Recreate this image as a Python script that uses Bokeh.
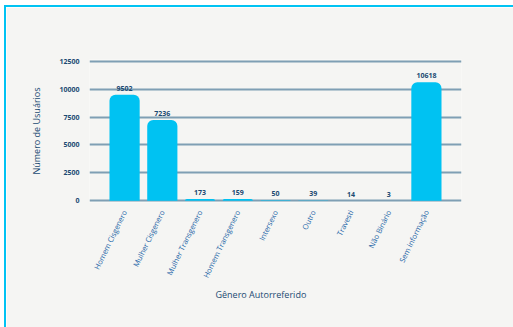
import math
from bokeh.plotting import figure
from bokeh.models import ColumnDataSource, FactorRange, Range1d, FixedTicker, Title
from bokeh.core.properties import value
from bokeh.embed import file_html
from bokeh.resources import INLINE

categories = ["Homem Cisgenero", "Mulher Cisgenero", "Mulher Transgenero",
              "Homem Transgenero", "Intersexo", "Outro", "Travesti",
              "Não Binário", "Sem informação"]
counts = [9502, 7236, 173, 159, 50, 39, 14, 3, 10618]
y_ticks = [0, 2500, 5000, 7500, 10000, 12500]

FONT = "Open Sans"
NAVY = "#1b4a72"
BLUE = "#2567a8"
GRID = "#7f9fb4"
BAR = "#00c2f2"
BG = "#f5f5f3"

src = ColumnDataSource(dict(cat=categories, n=counts, lab=[str(c) for c in counts]))

p = figure(width=509, height=322, output_backend="svg", toolbar_location=None,
           x_range=FactorRange(factors=categories, range_padding=0.43,
                               range_padding_units="absolute"),
           y_range=Range1d(-150, 12650),
           min_border_left=83, min_border_right=54,
           min_border_top=52, min_border_bottom=127)
p.background_fill_color = BG
p.border_fill_color = BG
p.outline_line_color = None
p.styles = {"border-top": "2px solid #00c3f3", "border-left": "2px solid #00c3f3",
            "box-sizing": "border-box", "margin-left": "4px", "margin-top": "5px"}

p.vbar(x="cat", top="n", bottom=0, width=0.8, source=src, color=BAR,
       line_color=None, border_radius=(6, 6, 0, 0))
p.text(x="cat", y="n", text="lab", source=src, y_offset=-4,
       text_align="center", text_baseline="bottom",
       text_font=value(FONT), text_font_size="7px", text_font_style="bold",
       text_color=NAVY)

p.xgrid.grid_line_color = None
p.ygrid.grid_line_color = GRID
p.ygrid.grid_line_width = 2
p.yaxis.ticker = FixedTicker(ticks=y_ticks)

for ax in (p.xaxis, p.yaxis):
    ax.axis_line_color = None
    ax.major_tick_line_color = None
    ax.minor_tick_line_color = None

p.yaxis.major_label_text_font = FONT
p.yaxis.major_label_text_font_size = "7px"
p.yaxis.major_label_text_font_style = "bold"
p.yaxis.major_label_text_color = NAVY
p.yaxis.major_label_standoff = 4
p.yaxis.axis_label = "Número de Usuários"
p.yaxis.axis_label_text_font = FONT
p.yaxis.axis_label_text_font_size = "9px"
p.yaxis.axis_label_text_font_style = "normal"
p.yaxis.axis_label_text_color = NAVY
p.yaxis.axis_label_standoff = 13

p.xaxis.major_label_orientation = math.radians(64)
p.xaxis.major_label_text_font = FONT
p.xaxis.major_label_text_font_size = "7.5px"
p.xaxis.major_label_text_color = BLUE
p.xaxis.major_label_standoff = 2

xt = Title(text="Gênero Autorreferido", align="left", offset=126, standoff=2,
           text_font=FONT, text_font_size="9px", text_font_style="normal",
           text_color=NAVY)
p.add_layout(xt, "below")

open("out.html", "w").write(file_html(p, INLINE))
